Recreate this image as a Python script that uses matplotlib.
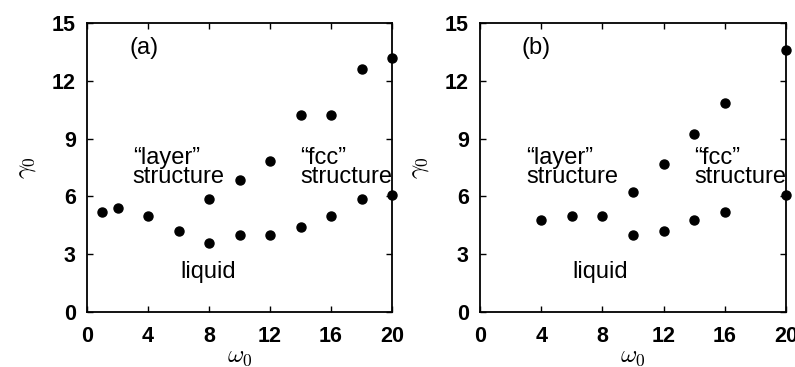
import matplotlib
matplotlib.use("Agg")
import matplotlib.pyplot as plt

plt.rcParams["font.family"] = ["Liberation Sans", "DejaVu Sans"]
plt.rcParams["mathtext.fontset"] = "cm"

# panel (a)
a_low_x = [1, 2, 4, 6, 8, 10, 12, 14, 16, 18, 20]
a_low_y = [5.2, 5.4, 5.0, 4.2, 3.6, 4.0, 4.0, 4.4, 5.0, 5.85, 6.05]
a_up_x = [8, 10, 12, 14, 16, 18, 20]
a_up_y = [5.85, 6.85, 7.85, 10.2, 10.2, 12.6, 13.2]

# panel (b)
b_low_x = [4, 6, 8, 10, 12, 14, 16, 20]
b_low_y = [4.8, 5.0, 5.0, 4.0, 4.2, 4.8, 5.2, 6.05]
b_up_x = [10, 12, 14, 16, 20]
b_up_y = [6.25, 7.7, 9.25, 10.85, 13.6]

x_ticks = [0, 4, 8, 12, 16, 20]
y_ticks = [0, 3, 6, 9, 12, 15]

fig = plt.figure(figsize=(7.95, 3.67), dpi=100)
W, H = 795, 367
ax_a = fig.add_axes([87 / W, 1 - 312 / H, 305 / W, 289 / H])
ax_b = fig.add_axes([480 / W, 1 - 312 / H, 306 / W, 289 / H])


def _panel(ax, lx, ly, ux, uy, tag, tag_x, liq_x):
    ax.plot(lx, ly, "o", color="black", ms=6.5, clip_on=False, zorder=5)
    ax.plot(ux, uy, "o", color="black", ms=6.5, clip_on=False, zorder=5)
    ax.set_xlim(0, 20)
    ax.set_ylim(0, 15)
    ax.set_xticks(x_ticks)
    ax.set_yticks(y_ticks)
    ax.tick_params(direction="in", length=4, width=1, top=True, right=True,
                   labelsize=15.5)
    ax.tick_params(axis="x", pad=10)
    ax.tick_params(axis="y", pad=8)
    for lab in ax.get_xticklabels() + ax.get_yticklabels():
        lab.set_fontweight("bold")
    for sp in ax.spines.values():
        sp.set_linewidth(1.3)
    ax.set_xlabel(r"$\omega_0$", fontsize=18, labelpad=-2)
    ax.set_ylabel(r"$\gamma_0$", fontsize=18, labelpad=10)
    kw = dict(fontsize=17, ha="left", va="center", linespacing=0.88)
    ax.text(tag_x, 13.7, tag, **kw)
    ax.text(3.0, 7.5, "\u201clayer\u201d\nstructure", **kw)
    ax.text(14.0, 7.5, "\u201cfcc\u201d\nstructure", **kw)
    ax.text(liq_x, 2.1, "liquid", **kw)


_panel(ax_a, a_low_x, a_low_y, a_up_x, a_up_y, "(a)", 2.8, 6.1)
_panel(ax_b, b_low_x, b_low_y, b_up_x, b_up_y, "(b)", 2.7, 6.05)

fig.savefig("out.png", dpi=100)
